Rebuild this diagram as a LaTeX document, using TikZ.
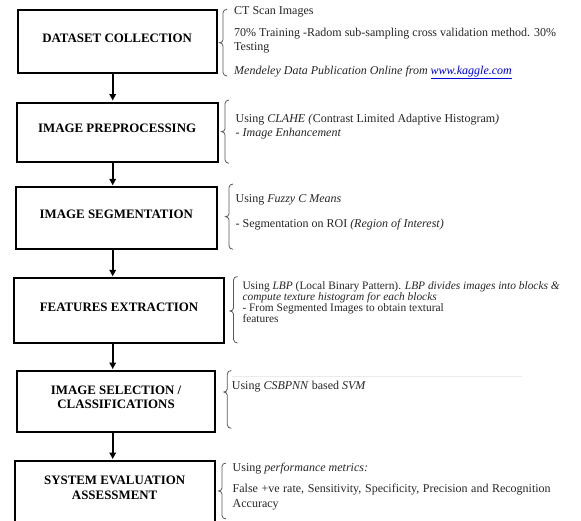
\documentclass[tikz,border=0pt]{standalone}
\usepackage{fontspec}
\setmainfont{Liberation Serif}
\usetikzlibrary{arrows.meta}
\newcommand{\bracketmark}[4]{%
  \draw[brk] (#1+4,#2) to[out=180,in=90] (#1,#2+3.5) -- (#1,#3-3)
    to[out=-90,in=0] (#1-3.5,#3) to[out=0,in=90] (#1,#3+3)
    -- (#1,#4-3.5) to[out=-90,in=180] (#1+4,#4);}
\begin{document}
\begin{tikzpicture}[x=1pt,y=-1pt,
  stage/.style={draw=black, line width=2pt, inner sep=0pt, align=center,
    font=\fontsize{12.9}{14.5}\selectfont\bfseries, text depth=8pt},
  note/.style={anchor=base west, inner sep=0pt, text=black!85,
    font=\fontsize{12}{14}\selectfont},
  smallnote/.style={note, font=\fontsize{11.4}{12}\selectfont},
  flow/.style={line width=2pt, -{Triangle[length=6.5pt,width=6.5pt]}, shorten >=1pt},
  brk/.style={draw=black!65, line width=0.8pt},
]
\useasboundingbox[fill=white] (0,0) rectangle (581,520);
\begin{scope}
\clip (0,0) rectangle (581,520);
% stages
\node[stage, minimum width=198.7pt, minimum height=63pt] (b1) at (117.15,41.8) {DATASET COLLECTION};
\node[stage, minimum width=200.8pt, minimum height=59.8pt] (b2) at (117.1,132.4) {IMAGE PREPROCESSING};
\node[stage, minimum width=201.4pt, minimum height=62pt] (b3) at (116.3,218.3) {IMAGE SEGMENTATION};
\node[stage, minimum width=209.9pt, minimum height=65pt] (b4) at (119.05,310.8) {FEATURES EXTRACTION};
\node[stage, minimum width=197.3pt, minimum height=60.7pt] (b5) at (116.05,401.35) {IMAGE SELECTION /\\CLASSIFICATIONS};
\node[stage, minimum width=199.7pt, minimum height=61pt] (b6) at (114.65,491.5) {SYSTEM EVALUATION\\ASSESSMENT};
\end{scope}
% arrows
\coordinate (ax) at (112.7,0);
\draw[flow] (b1.south -| ax) -- (b2.north -| ax);
\draw[flow] (b2.south -| ax) -- (b3.north -| ax);
\draw[flow] (b3.south -| ax) -- (b4.north -| ax);
\draw[flow] (b4.south -| ax) -- (b5.north -| ax);
\draw[flow] (b5.south -| ax) -- (b6.north -| ax);
% brackets
\bracketmark{223}{9.3}{42.7}{76}
\bracketmark{225}{100}{131.7}{163.3}
\bracketmark{229}{184}{216.7}{249.3}
\bracketmark{233.5}{276.5}{311}{343}
\bracketmark{227.3}{370.5}{392}{428.3}
\bracketmark{222}{463}{491}{519}
\draw[black!8, line width=0.6pt] (232,376) -- (522,376);
% notes
\node[note] (t1a) at (234,14.2) {CT Scan Images};
\node[note] (t1b) at (234,36.6) {70\% Training -Radom sub-sampling cross validation method. 30\%};
\node[note] (t1c) at (234,50.2) {Testing};
\node[note] (t1d) at (234,74.3) {\textit{Mendeley Data Publication Online from \textcolor{blue!85!black}{\underline{www.kaggle.com}}}};
\node[note] (t2a) at (235.4,122.5) {Using \textit{CLAHE (}Contrast Limited Adaptive Histogram\textit{)}};
\node[note] (t2b) at (235.4,136) {- \textit{Image Enhancement}};
\node[note] (t3a) at (235.4,202.8) {Using \textit{Fuzzy C Means}};
\node[note] (t3b) at (235.4,227.5) {- Segmentation on ROI \textit{(Region of Interest)}};
\node[smallnote] (t4a) at (242.3,289.3) {Using \textit{LBP} (Local Binary Pattern). \textit{LBP divides images into blocks \&}};
\node[smallnote] (t4b) at (242.3,300.2) {\textit{compute texture histogram for each blocks}};
\node[smallnote] (t4c) at (242.3,311.1) {- From Segmented Images to obtain textural};
\node[smallnote] (t4d) at (242.3,322) {features};
\node[note] (t5a) at (231.7,389) {Using \textit{CSBPNN} based \textit{SVM}};
\node[note] (t6a) at (232.5,471.8) {Using \textit{performance metrics:}};
\node[note] (t6b) at (232.5,492.8) {\makebox[318pt][s]{False +ve rate, Sensitivity, Specificity, Precision and Recognition}};
\node[note] (t6c) at (232.5,507.5) {Accuracy};
\end{tikzpicture}
\end{document}
